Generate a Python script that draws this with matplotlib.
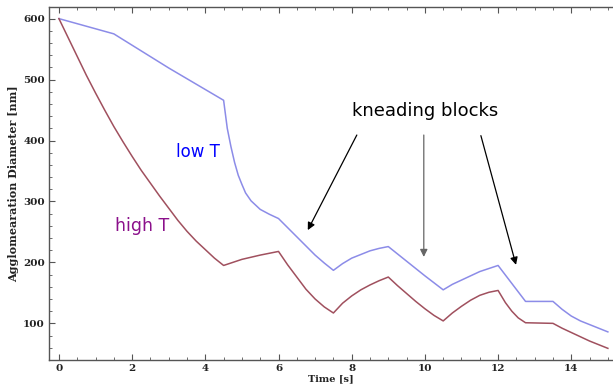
import matplotlib.pyplot as plt
from matplotlib.ticker import MultipleLocator

# low T curve (time [s], diameter [nm])
t_low = [0, 1.5, 3.0, 4.5, 4.6, 4.7, 4.8, 4.9, 5.0, 5.1, 5.25, 5.5, 5.75, 6.0,
         6.25, 6.5, 6.75, 7.0, 7.25, 7.5, 7.75, 8.0, 8.25, 8.5, 8.75, 9.0,
         9.5, 10.0, 10.5, 10.75, 11.0, 11.25, 11.5, 11.75, 12.0,
         12.75, 13.5, 13.75, 14.0, 14.25, 14.5, 15.0]
d_low = [600, 575, 519, 466, 420, 390, 364, 343, 328, 314, 301, 287, 279, 272,
         257, 242, 227, 212, 199, 187, 198, 207, 213, 219, 223, 226,
         202, 178, 155, 164, 171, 178, 185, 190, 195,
         136, 136, 123, 112, 104, 98, 86]

# high T curve
t_high = [0, 0.25, 0.5, 0.75, 1.0, 1.25, 1.5, 1.75, 2.0, 2.25, 2.5, 2.75,
          3.0, 3.25, 3.5, 3.75, 4.0, 4.25, 4.5, 4.75, 5.0, 5.5, 6.0,
          6.25, 6.5, 6.75, 7.0, 7.25, 7.5, 7.75, 8.0, 8.25, 8.5, 8.75, 9.0,
          9.25, 9.5, 9.75, 10.0, 10.25, 10.5, 10.75, 11.0, 11.25, 11.5, 11.75,
          12.0, 12.2, 12.375, 12.55, 12.75, 13.5, 13.75, 14.0, 14.5, 15.0]
d_high = [600, 569, 538, 507, 478, 450, 423, 398, 374, 351, 330, 309,
          289, 269, 251, 235, 221, 207, 195, 200, 205, 212, 218,
          196, 176, 156, 140, 127, 117, 133, 145, 155, 163, 170, 176,
          162, 149, 136, 124, 113, 104, 117, 128, 138, 146, 151,
          154, 134, 120, 109, 101, 100, 92, 85, 71, 59]

# arrows: (tail x, tail y, head x, head y)
arrow_tails = [(8.14, 409), (9.97, 409), (11.53, 408)]
arrow_heads = [(6.80, 253), (9.97, 209), (12.49, 196)]
arrow_colors = ['black', '#666666', 'black']

fig = plt.figure(figsize=(6.13, 3.91), dpi=100)
ax = fig.add_axes([0.08, 0.079, 0.92, 0.903])

ax.plot(t_low, d_low, color='#8c8ce8', lw=1.1)
ax.plot(t_high, d_high, color='#a0505e', lw=1.1)

ax.set_xlim(-0.27, 15.14)
ax.set_ylim(39.7, 619)

ax.xaxis.set_major_locator(MultipleLocator(2))
ax.xaxis.set_minor_locator(MultipleLocator(0.5))
ax.yaxis.set_major_locator(MultipleLocator(100))
ax.yaxis.set_minor_locator(MultipleLocator(20))
ax.tick_params(which='both', direction='in', top=True, right=False,
               color='#555555')
ax.tick_params(which='major', length=4, width=0.8, pad=3)
ax.tick_params(which='minor', length=2, width=0.6)

for s in ['left', 'bottom', 'top']:
    ax.spines[s].set_color('#555555')
    ax.spines[s].set_linewidth(1.0)
ax.spines['right'].set_visible(False)

for lab in ax.get_xticklabels() + ax.get_yticklabels():
    lab.set_fontfamily('DejaVu Serif')
    lab.set_fontweight('bold')
    lab.set_fontsize(7.5)
    lab.set_color('#222222')

ax.set_xlabel('Time [s]', fontfamily='DejaVu Serif', fontweight='bold',
              fontsize=7, labelpad=1, color='#222222')
ax.set_ylabel('Agglomearation Diameter [nm]', fontfamily='DejaVu Serif',
              fontweight='bold', fontsize=8, labelpad=3, color='#222222')

ax.text(3.8, 381, 'low T', color='blue', fontsize=12, ha='center', va='center',
        family='DejaVu Sans')
ax.text(2.26, 260, 'high T', color='#8b108b', fontsize=12.5, ha='center',
        va='center', family='DejaVu Sans')
ax.text(10.0, 448, 'kneading blocks', color='black', fontsize=13,
        ha='center', va='center', family='DejaVu Sans')

for (tx, ty), (hx, hy), c in zip(arrow_tails, arrow_heads, arrow_colors):
    ax.annotate('', xy=(hx, hy), xytext=(tx, ty),
                arrowprops=dict(arrowstyle='-|>', color=c, lw=0.9,
                                mutation_scale=11, shrinkA=0, shrinkB=0))

plt.savefig('out.png', dpi=100)
